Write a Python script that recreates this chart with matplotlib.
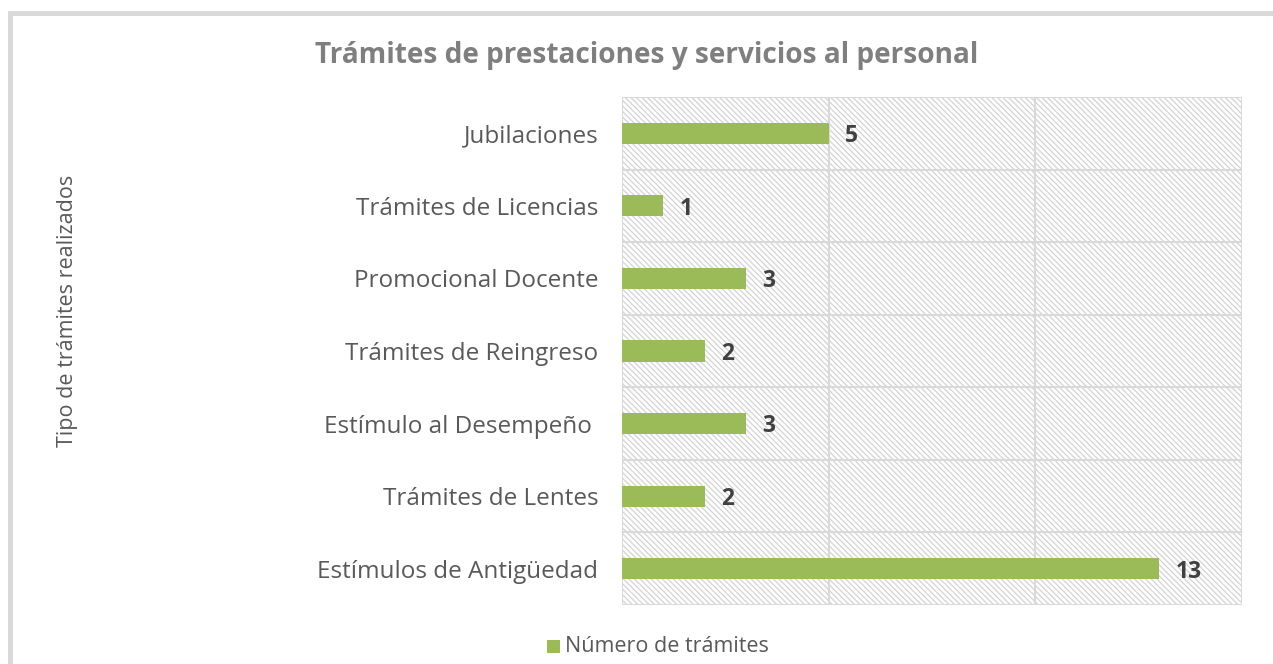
import matplotlib
matplotlib.use("Agg")
import matplotlib.pyplot as plt
from matplotlib.patches import Rectangle

categories = ["Jubilaciones", "Trámites de Licencias", "Promocional Docente",
              "Trámites de Reingreso", "Estímulo al Desempeño ", "Trámites de Lentes",
              "Estímulos de Antigüedad"]
values = [5, 1, 3, 2, 3, 2, 13]
x_ticks = [0, 5, 10, 15]
title = "Trámites de prestaciones y servicios al personal"
y_label = "Tipo de trámites realizados"
legend_label = "Número de trámites"

plt.rcParams['font.family'] = ['Open Sans', 'DejaVu Sans']
plt.rcParams['hatch.color'] = '#d3d3d3'
plt.rcParams['hatch.linewidth'] = 0.9

W, H = 1273, 664
fig = plt.figure(figsize=(W / 100, H / 100), dpi=100)
fig.patch.set_facecolor('white')

# outer border
fig.patches.append(Rectangle((9.5 / W, -0.1), 2.0, 1.1 - 13.5 / H, transform=fig.transFigure,
                             fill=False, edgecolor='#d9d9d9', linewidth=3.6, zorder=0))

ax = fig.add_axes([622 / W, 1 - 605 / H, 620 / W, 508 / H])
n = len(categories)
ypos = list(range(n))
ax.barh(ypos, values, height=0.29, color='#9bbb59', zorder=3)
ax.set_ylim(n - 0.5, -0.5)
ax.set_xlim(x_ticks[0], x_ticks[-1])

# hatched background
ax.add_patch(Rectangle((0, 0), 1, 1, transform=ax.transAxes, facecolor='white',
                       edgecolor='#d3d3d3', hatch='\\' * 6, linewidth=0, zorder=0))

ax.set_xticks(x_ticks)
ax.tick_params(axis='x', length=0, labelbottom=False)
ax.set_yticks(ypos)
ax.set_yticklabels(categories, fontsize=17.5, color='#595959')
ax.tick_params(axis='y', length=0, pad=17)

# gridlines
for xv in x_ticks:
    ax.axvline(xv, color='#d9d9d9', linewidth=1.5, zorder=1)
for i in range(n + 1):
    ax.axhline(i - 0.5, color='#d9d9d9', linewidth=1.5, zorder=1)
for s in ax.spines.values():
    s.set_visible(False)

for y, v in zip(ypos, values):
    ax.text(v + 0.4, y + 0.04, str(v), va='center', ha='left', fontsize=16.5,
            fontweight='bold', color='#404040', zorder=4)

fig.text(647 / W, 1 - 56 / H, title, ha='center', va='center', fontsize=20.2,
         fontweight='bold', color='#7f7f7f')
fig.text(68 / W, 1 - 311 / H, y_label, ha='center', va='center', rotation=90,
         fontsize=15.5, color='#595959')

fig.patches.append(Rectangle((547 / W, 1 - 653 / H), 13 / W, 13 / H, transform=fig.transFigure,
                             facecolor='#9bbb59', edgecolor='none'))
fig.text(565 / W, 1 - 647 / H, legend_label, ha='left', va='center', fontsize=15.5,
         color='#595959')

fig.savefig('out.png', dpi=100, facecolor='white')
